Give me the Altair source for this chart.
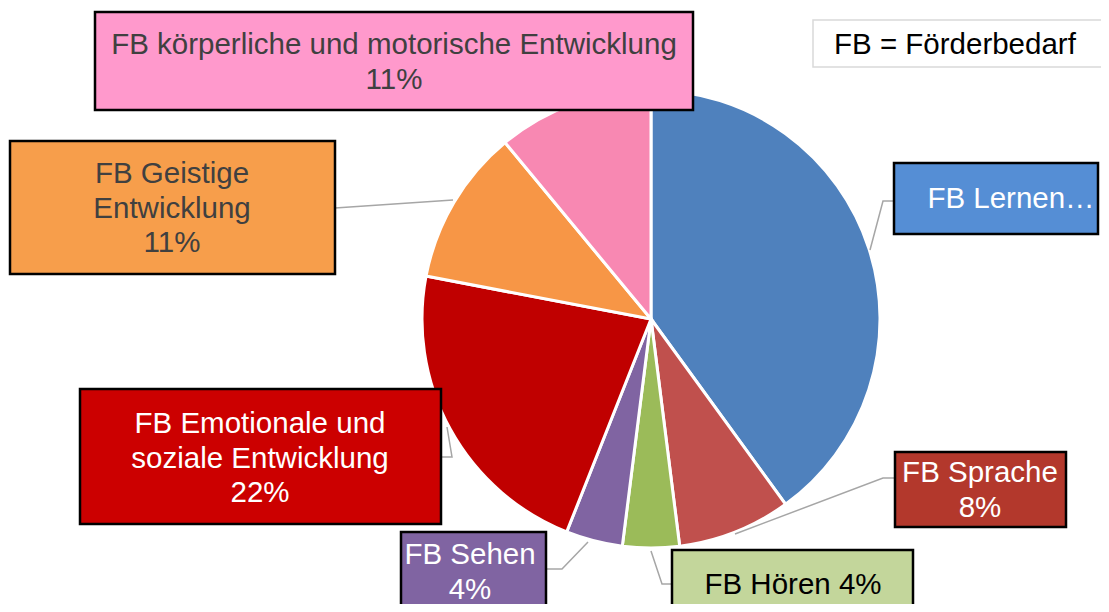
import altair as alt
import pandas as pd

# ---- data ----
categories = [
    "FB Lernen",
    "FB Sprache",
    "FB Hören",
    "FB Sehen",
    "FB Emotionale und soziale Entwicklung",
    "FB Geistige Entwicklung",
    "FB körperliche und motorische Entwicklung",
]
values = [40, 8, 4, 4, 22, 11, 11]
box_texts = [
    "FB Lernen…",
    "FB Sprache\n8%",
    "FB Hören 4%",
    "FB Sehen\n4%",
    "FB Emotionale und\nsoziale Entwicklung\n22%",
    "FB Geistige\nEntwicklung\n11%",
    "FB körperliche und motorische Entwicklung\n11%",
]
note_text = "FB = Förderbedarf"

# ---- styles ----
slice_colors = ["#4F81BD", "#C0504D", "#9BBB59", "#8064A2", "#C00000", "#F79646", "#F888B2"]
box_colors = ["#558ED5", "#B3382C", "#C3D69B", "#8064A2", "#CC0000", "#F79E4B", "#FF99CC"]
text_colors = ["#FFFFFF", "#FFFFFF", "#000000", "#FFFFFF", "#FFFFFF", "#404040", "#404040"]

# ---- layout (page pixel coordinates) ----
M = 8
W, H = 1093, 596
CX, CY, R = 651, 319, 229
FS = 29.5
LH = 34.5
box_x1 = [894, 895, 672, 401, 80, 10, 95]
box_x2 = [1098, 1066, 913, 546, 441, 335, 693]
box_y1 = [163, 452, 550, 532, 389, 141, 12]
box_y2 = [234, 527, 625, 612, 524, 274, 110]
text_x = [1011, 980, 793, 470, 260, 172, 394]
text_y = [199, 473, 585, 555, 424, 174, 45]   # centre of first line
leader_pts = [
    [(894, 201), (883, 201), (870, 250)],
    [(895, 478), (883, 478), (735, 534)],
    [(672, 584), (662, 584), (651, 551)],
    [(546, 569), (562, 569), (588, 542)],
    [(441, 457), (452, 457), (447, 427)],
    [(335, 208), (453, 200)],
    [],
]

xs = alt.Scale(domain=[0, W], range=[0, W])
ys = alt.Scale(domain=[0, H], range=[0, H])

pie_df = pd.DataFrame({
    "cat": categories,
    "value": values,
    "idx": list(range(len(categories))),
    "col": slice_colors,
})

box_df = pd.DataFrame({
    "cat": categories,
    "x1": [v - M for v in box_x1],
    "x2": [v - M for v in box_x2],
    "y1": [v - M for v in box_y1],
    "y2": [v - M for v in box_y2],
    "fillcol": box_colors,
    "tx": [v - M for v in text_x],
    "ty": [v - M for v in text_y],
    "label": box_texts,
    "tcol": text_colors,
})

rows = []
for i, pts in enumerate(leader_pts):
    for j, (px, py) in enumerate(pts):
        rows.append({"grp": i, "pt": j, "x": px - M, "y": py - M})
line_df = pd.DataFrame(rows)

pie = alt.Chart(pie_df).mark_arc(
    outerRadius=R, stroke="white", strokeWidth=3
).encode(
    theta=alt.Theta("value:Q", stack=True),
    color=alt.Color("col:N", scale=None, legend=None),
    order=alt.Order("idx:Q", sort="ascending"),
    x=alt.value(CX - M),
    y=alt.value(CY - M),
)

leaders = alt.Chart(line_df).mark_line(color="#A6A6A6", strokeWidth=1.5).encode(
    x=alt.X("x:Q", scale=xs, axis=None),
    y=alt.Y("y:Q", scale=ys, axis=None),
    detail="grp:N",
    order="pt:Q",
)

boxes = alt.Chart(box_df).mark_rect(stroke="black", strokeWidth=2.5).encode(
    x=alt.X("x1:Q", scale=xs, axis=None),
    x2="x2:Q",
    y=alt.Y("y1:Q", scale=ys, axis=None),
    y2="y2:Q",
    color=alt.Color("fillcol:N", scale=None, legend=None),
)

texts = alt.Chart(box_df).mark_text(
    font="Liberation Sans", fontSize=FS, lineHeight=LH,
    align="center", baseline="middle", lineBreak="\n",
).encode(
    x=alt.X("tx:Q", scale=xs, axis=None),
    y=alt.Y("ty:Q", scale=ys, axis=None),
    text="label:N",
    color=alt.Color("tcol:N", scale=None, legend=None),
)

note_df = pd.DataFrame({"x1": [813 - M], "x2": [1125 - M], "y1": [20 - M], "y2": [67 - M],
                        "tx": [834 - M], "ty": [45 - M], "label": [note_text]})
note_box = alt.Chart(note_df).mark_rect(fill="white", stroke="#D9D9D9", strokeWidth=1.5).encode(
    x=alt.X("x1:Q", scale=xs, axis=None), x2="x2:Q",
    y=alt.Y("y1:Q", scale=ys, axis=None), y2="y2:Q",
)
note_txt = alt.Chart(note_df).mark_text(
    font="Liberation Sans", fontSize=FS, align="left", baseline="middle", color="#000000"
).encode(
    x=alt.X("tx:Q", scale=xs, axis=None),
    y=alt.Y("ty:Q", scale=ys, axis=None),
    text="label:N",
)

chart = alt.layer(pie, leaders, boxes, texts, note_box, note_txt).properties(
    width=W, height=H, padding=0, autosize="none",
    background="white",
).configure_view(stroke=None)

chart.save("out.html", embed_options={"renderer": "svg", "actions": False})
